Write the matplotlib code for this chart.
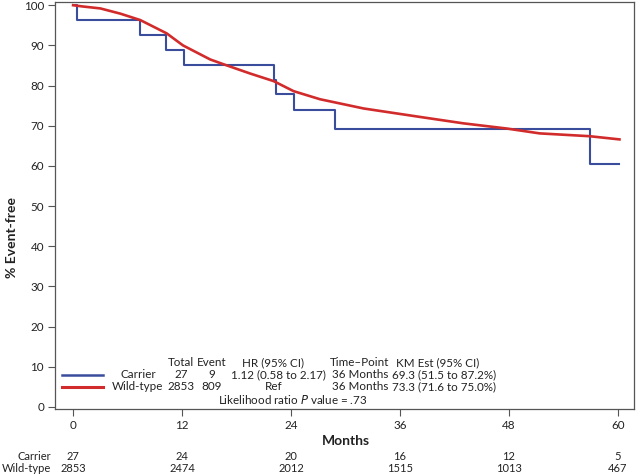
import matplotlib
matplotlib.use("Agg")
import matplotlib.pyplot as plt

plt.rcParams['font.family'] = ['Lato', 'DejaVu Sans']

# Carrier KM step curve
carrier_t = [0, 0.4, 7.4, 10.2, 12.2, 22.1, 22.3, 24.3, 28.9, 56.9, 60.2]
carrier_s = [100, 96.3, 92.6, 88.9, 85.2, 81.5, 77.8, 73.9, 69.3, 60.6, 60.6]

# Wild-type KM curve (many events -> near-smooth)
wild_t = [0, 1, 3, 5.2, 7.4, 10.3, 12.1, 15.1, 16.7, 19.5, 22.1, 24.3, 27.2,
          32, 38.2, 43, 47.8, 51.4, 56.9, 60.2]
wild_s = [100, 99.7, 99.2, 97.9, 96.3, 93.0, 90.0, 86.5, 85.2, 83.0, 81.1, 78.6,
          76.6, 74.3, 72.2, 70.6, 69.3, 68.1, 67.4, 66.6]

xticks = [0, 12, 24, 36, 48, 60]
yticks = list(range(0, 101, 10))
risk_groups = ["Carrier", "Wild-type"]
risk_carrier = [27, 24, 20, 16, 12, 5]
risk_wild = [2853, 2474, 2012, 1515, 1013, 467]

table_header = ["Total", "Event", "HR (95% CI)", "Time\u2013Point", "KM Est (95% CI)"]
table_carrier = ["27", "9", "1.12 (0.58 to 2.17)", "36 Months", "69.3 (51.5 to 87.2%)"]
table_wild = ["2853", "809", "Ref", "36 Months", "73.3 (71.6 to 75.0%)"]

blue = "#3a4d9c"
red = "#d22b2b"
frame = "#555555"
tc = "#222222"
FS = 8.4
RFS = 8.0

W, H = 640, 475
fig = plt.figure(figsize=(6.4, 4.75), dpi=100)
ax = fig.add_axes([55 / W, 1 - 409 / H, (634 - 55) / W, (409 - 2) / H])

ax.plot(carrier_t, carrier_s, drawstyle="steps-post", color=blue, lw=1.5, zorder=2)
ax.plot(wild_t, wild_s, color=red, lw=1.9, zorder=3)

ax.set_xlim(-2, 61.8)
ax.set_ylim(-0.5, 100.8)
ax.set_xticks(xticks)
ax.set_yticks(yticks)
ax.tick_params(direction="out", length=5, width=0.8, color=frame, labelsize=FS, labelcolor=tc, pad=3)
for s in ax.spines.values():
    s.set_color(frame)
    s.set_linewidth(0.9)

ax.set_ylabel("% Event-free", fontsize=10, fontweight="bold", color=tc)
ax.yaxis.set_label_coords(12 / W, 0.5, transform=fig.transFigure)
ax.set_xlabel("Months", fontsize=10, fontweight="bold", color=tc)
ax.xaxis.set_label_coords(346 / W, 1 - 441 / H, transform=fig.transFigure)
ax.xaxis.label.set_va("center")
ax.yaxis.label.set_va("center")

# in-plot table (pixel coordinates -> figure fraction)
def ftext(x, y, s, ha="center", fs=FS, **kw):
    fig.text(x / W, 1 - y / H, s, ha=ha, va="center", fontsize=fs, color=tc, **kw)

col_x = [181, 212, 273, 360, 438]
for x, s in zip(col_x, table_header):
    ftext(x, 363, s)
data_x = [181, 212, 278, 360, 444]
for x, s in zip(data_x, table_carrier):
    ftext(x, 375, s)
data_x2 = [181, 212, 274, 360, 444]
for x, s in zip(data_x2, table_wild):
    ftext(x, 387, s)
ftext(138, 375, risk_groups[0])
ftext(138, 387, risk_groups[1])
ftext(293, 399, r"Likelihood ratio $\mathit{P}$ value = .73")
fig.add_artist(plt.Line2D([62 / W, 103 / W], [1 - 375 / H] * 2, color=blue, lw=1.8))
fig.add_artist(plt.Line2D([62 / W, 103 / W], [1 - 387 / H] * 2, color=red, lw=2.2))

# risk table below
for x0, c, w in zip(xticks, risk_carrier, risk_wild):
    xp = ax.transData.transform((x0, 0))[0]
    ftext(xp, 456, str(c), fs=RFS)
    ftext(xp, 468.5, str(w), fs=RFS)
ftext(51, 456, risk_groups[0], ha="right", fs=RFS)
ftext(51, 468.5, risk_groups[1], ha="right", fs=RFS)

fig.savefig("out.png", dpi=100)
